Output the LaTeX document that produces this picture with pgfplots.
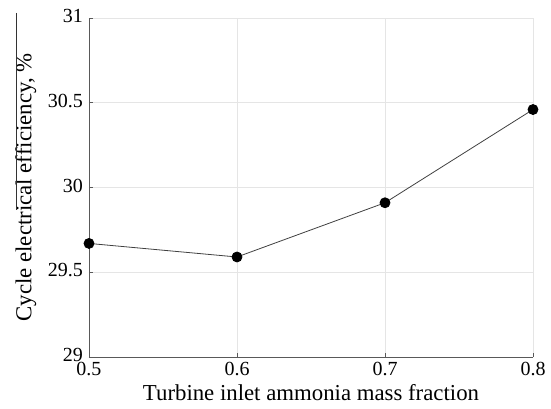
\documentclass[border=0pt]{standalone}
\usepackage{fontspec}
\setmainfont{Liberation Serif}
\usepackage{pgfplots}
\pgfplotsset{compat=1.18}
\definecolor{gridc}{gray}{0.90}
\definecolor{axc}{gray}{0.35}
\begin{document}
\begin{tikzpicture}
\begin{axis}[
  scale only axis,
  width=444bp, height=339bp,
  xmin=0.5, xmax=0.8, ymin=29, ymax=31,
  xtick={0.5,0.6,0.7,0.8},
  ytick={29,29.5,30,30.5,31},
  xticklabels={0.5,0.6,0.7,0.8},
  yticklabels={29,29.5,30,30.5,31},
  /pgf/number format/assume math mode=true,
  axis x line*=bottom, axis y line*=left,
  axis line style={axc, line width=0.8bp, -},
  grid=major,
  grid style={gridc, line width=0.8bp},
  tick align=inside,
  major tick length=4bp,
  tick style={axc, line width=0.8bp},
  ticklabel style={font=\fontsize{20bp}{23bp}\selectfont},
  xticklabel style={yshift=-4bp, inner sep=1bp},
  yticklabel style={yshift=2bp, inner sep=2bp, xshift=-4bp},
  label style={font=\fontsize{22.8bp}{26bp}\selectfont},
  xlabel={Turbine inlet ammonia mass fraction},
  ylabel={Cycle electrical efficiency, \%},
  xlabel style={yshift=-4bp},
  ylabel style={yshift=6bp},
  clip=false,
]
\addplot[color=black!75, line width=0.8bp, mark=*, mark size=5bp, mark options={fill=black, draw=black}]
  coordinates {(0.5,29.67) (0.6,29.59) (0.7,29.91) (0.8,30.46)};
\end{axis}
\draw[black!80, line width=0.9bp] ([shift={(-73bp,5bp)}]current axis.north west) -- ([shift={(-73bp,147bp)}]current axis.south west);
\pgfresetboundingbox
\path ([shift={(-89bp,-52bp)}]current axis.south west) rectangle ([shift={(18bp,18bp)}]current axis.north east);
\end{tikzpicture}
\end{document}
